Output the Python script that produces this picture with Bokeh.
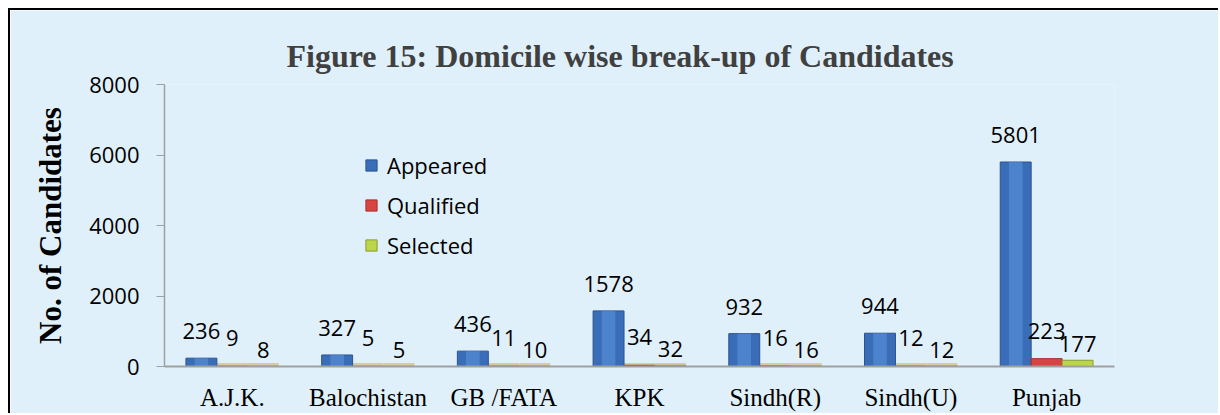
from bokeh.plotting import figure
from bokeh.models import ColumnDataSource, Legend, LegendItem, FixedTicker
from bokeh.transform import dodge
from bokeh.core.properties import value
from bokeh.embed import file_html
from bokeh.resources import INLINE

# ---- data ----
categories = ["A.J.K.", "Balochistan", "GB /FATA", "KPK", "Sindh(R)", "Sindh(U)", "Punjab"]
appeared = [236, 327, 436, 1578, 932, 944, 5801]
qualified = [9, 5, 11, 34, 16, 12, 223]
selected = [8, 5, 10, 32, 16, 12, 177]
y_ticks = [0, 2000, 4000, 6000, 8000]
series_names = ["Appeared", "Qualified", "Selected"]

source = ColumnDataSource(dict(
    cat=categories,
    appeared=appeared,
    qualified=qualified,
    selected=selected,
    zero=[0] * len(categories),
    appeared_txt=[str(v) for v in appeared],
    qualified_txt=[str(v) for v in qualified],
    selected_txt=[str(v) for v in selected],
))

BG = "#DFF0FB"
W = 0.228

p = figure(x_range=categories, y_range=(0, 8000), width=1210, height=405,
           output_backend="svg", toolbar_location=None,
           min_border_left=154, min_border_right=106, min_border_top=74, min_border_bottom=49,
           background_fill_color=BG, border_fill_color=BG, outline_line_color=None)
p.styles = {"margin-left": "8px", "margin-top": "8px",
            "border-left": "2px solid black", "border-top": "2px solid black"}

# Title
p.title.text = "Figure 15: Domicile wise break-up of Candidates"
p.title.text_font = "Liberation Serif"
p.title.text_font_style = "bold"
p.title.text_font_size = "32px"
p.title.text_color = "#404040"
p.title.align = "left"
p.title.offset = 122
p.title.standoff = 21

cols = ["appeared", "qualified", "selected"]
offsets = [-W, 0.0, W]
fills = ["#3A6DB8", "#D64541", "#BCD64A"]
lines = ["#2B5394", "#A8302C", "#8A9B2E"]
label_offsets = [-27, -28, -16]

# 3-D floor under the small bars
for off in offsets[1:]:
    p.rect(x=dodge("cat", off, range=p.x_range), y="zero", width=W, height=7, height_units="screen",
           source=source, fill_color="#D8CAA2", line_color=None)

renderers = []
for c, off, fc, lc in zip(cols, offsets, fills, lines):
    r = p.vbar(x=dodge("cat", off, range=p.x_range), top=c, width=W, bottom=0,
               source=source, fill_color=fc, line_color=lc, line_width=1)
    renderers.append(r)

# highlight on the blue bars (cylinder shading)
p.vbar(x=dodge("cat", offsets[0], range=p.x_range), top="appeared", width=0.1, bottom=0,
       source=source, fill_color="#5C95DC", fill_alpha=0.55, line_color=None)

# value labels
for c, off, yo in zip(cols, offsets, label_offsets):
    p.text(x=dodge("cat", off, range=p.x_range), y=c, text=c + "_txt", source=source,
           text_align="center", text_baseline="alphabetic", y_offset=yo,
           text_font=value("Open Sans"), text_font_size="22px", text_color="black")

# Axes
p.xaxis.axis_line_color = "#A0A0A0"
p.xaxis.axis_line_width = 2
p.xaxis.major_tick_line_color = None
p.xaxis.minor_tick_line_color = None
p.xaxis.major_label_text_font = "Liberation Serif"
p.xaxis.major_label_text_font_size = "25px"
p.xaxis.major_label_text_color = "black"
p.xaxis.major_label_standoff = 11

p.yaxis.ticker = FixedTicker(ticks=y_ticks)
p.yaxis.axis_line_color = "#A0A0A0"
p.yaxis.axis_line_width = 1.5
p.yaxis.major_tick_line_color = "#A0A0A0"
p.yaxis.major_tick_out = 8
p.yaxis.major_tick_in = 0
p.yaxis.minor_tick_line_color = None
p.yaxis.major_label_text_font = "Open Sans"
p.yaxis.major_label_text_font_size = "22px"
p.yaxis.major_label_text_color = "black"
p.yaxis.major_label_standoff = 17
p.yaxis.axis_label = "No. of Candidates"
p.yaxis.axis_label_text_font = "Liberation Serif"
p.yaxis.axis_label_text_font_style = "bold"
p.yaxis.axis_label_text_font_size = "31px"
p.yaxis.axis_label_text_color = "black"
p.yaxis.axis_label_standoff = 18

p.xgrid.grid_line_color = None
p.ygrid.grid_line_color = None

# Legend
legend = Legend(items=[LegendItem(label=n, renderers=[r]) for n, r in zip(series_names, renderers)],
                location=(200, 106), orientation="vertical",
                background_fill_alpha=0, border_line_color=None,
                padding=0, margin=0, spacing=10,
                label_height=22, glyph_height=14, glyph_width=14, label_standoff=9,
                label_text_font="Open Sans", label_text_font_size="22px", label_text_color="black")
p.add_layout(legend)

open("out.html", "w").write(file_html(p, INLINE))
